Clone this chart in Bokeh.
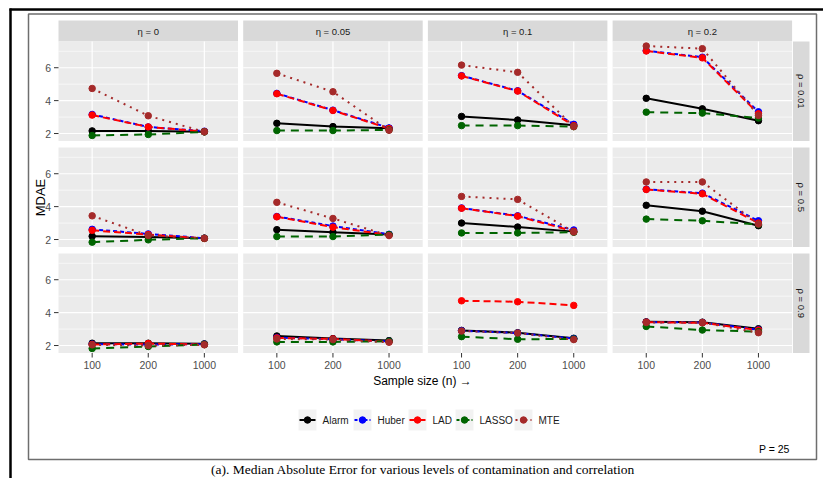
import numpy as np
from bokeh.plotting import figure
from bokeh.models import Range1d
from bokeh.core.properties import value
from bokeh.embed import file_html
from bokeh.resources import INLINE

# ---------------- data ----------------
sample_sizes = ["100", "200", "1000"]
eta_labels = ["η = 0", "η = 0.05", "η = 0.1", "η = 0.2"]
rho_labels = ["ρ = 0.01", "ρ = 0.5", "ρ = 0.9"]
methods = ["Alarm", "Huber", "LAD", "LASSO", "MTE"]
y_ticks = [2, 4, 6]
y_minor = [3, 5, 7]

# MDAE[rho][eta] -> values at n = 100, 200, 1000
alarm = [
    [[2.16, 2.16, 2.10], [2.62, 2.42, 2.32], [3.04, 2.82, 2.50], [4.14, 3.50, 2.78]],
    [[2.20, 2.16, 2.08], [2.60, 2.44, 2.30], [3.00, 2.76, 2.48], [4.08, 3.72, 2.84]],
    [[2.14, 2.14, 2.10], [2.58, 2.42, 2.30], [2.92, 2.78, 2.44], [3.44, 3.42, 3.02]],
]
huber = [
    [[3.16, 2.40, 2.14], [4.44, 3.42, 2.34], [5.52, 4.60, 2.56], [7.04, 6.64, 3.32]],
    [[2.62, 2.34, 2.08], [3.40, 2.82, 2.32], [3.92, 3.44, 2.58], [5.06, 4.82, 3.14]],
    [[2.08, 2.06, 2.08], [2.48, 2.38, 2.26], [2.90, 2.76, 2.42], [3.42, 3.40, 2.96]],
]
lad = [
    [[3.12, 2.40, 2.12], [4.42, 3.40, 2.30], [5.50, 4.58, 2.48], [7.02, 6.60, 3.20]],
    [[2.56, 2.30, 2.06], [3.38, 2.75, 2.28], [3.90, 3.42, 2.50], [5.04, 4.78, 3.00]],
    [[2.06, 2.12, 2.06], [2.46, 2.40, 2.24], [4.72, 4.66, 4.44], [3.42, 3.38, 2.94]],
]
lasso = [
    [[1.88, 1.94, 2.10], [2.18, 2.18, 2.22], [2.48, 2.48, 2.42], [3.30, 3.24, 2.94]],
    [[1.84, 1.98, 2.08], [2.18, 2.18, 2.30], [2.40, 2.40, 2.44], [3.24, 3.14, 2.92]],
    [[1.82, 1.94, 2.06], [2.22, 2.22, 2.26], [2.54, 2.38, 2.40], [3.16, 2.94, 2.84]],
]
mte = [
    [[4.74, 3.08, 2.10], [5.66, 4.54, 2.20], [6.16, 5.72, 2.42], [7.32, 7.16, 3.10]],
    [[3.44, 2.25, 2.08], [4.26, 3.28, 2.24], [4.62, 4.44, 2.46], [5.50, 5.50, 2.94]],
    [[2.04, 2.00, 2.04], [2.40, 2.36, 2.20], [2.88, 2.76, 2.36], [3.40, 3.40, 2.78]],
]

# ---------------- styling ----------------
series = [
    (alarm, "black", "solid"),
    (huber, "#0000FF", "4 3"),
    (lad, "#FF0000", "7 4"),
    (lasso, "#006400", "8 6"),
    (mte, "#A52A2A", "2 5"),
]
legend_dash = ["solid", "3 2", "solid", "3 2", "2 3"]
FONT = value("Liberation Sans")
SERIF = value("Liberation Serif")

x_pos = [1, 2, 3]
X_LO, X_HI = 0.4, 3.6
all_vals = np.concatenate([np.ravel(a) for a in (alarm, huber, lad, lasso, mte)])
span = all_vals.max() - all_vals.min()
Y_LO, Y_HI = all_vals.min() - 0.05 * span, all_vals.max() + 0.05 * span

W, H = 823, 478
p = figure(width=W, height=H, x_range=Range1d(0, W), y_range=Range1d(H, 0),
           output_backend="svg", toolbar_location=None, min_border=0,
           x_axis_location=None, y_axis_location=None)
p.grid.visible = False
p.outline_line_color = None
p.background_fill_color = "white"
p.border_fill_color = "white"

# outer frame
p.segment(x0=[9], x1=[W], y0=[9], y1=[9], line_color="black", line_width=2.5)
p.segment(x0=[10], x1=[10], y0=[8], y1=[H], line_color="black", line_width=2.5)
p.quad(left=[28], right=[816], top=[13.5], bottom=[459], fill_color=None,
       line_color="#6E6E6E", line_width=1.5)

col_left = [58 + i * 184.7 for i in range(4)]
PW = 179.5
row_top = [41 + j * 106 for j in range(3)]
PH = 99.5
ppu_y = PH / (Y_HI - Y_LO)
ppu_x = PW / (X_HI - X_LO)

# top strips
p.quad(left=col_left, right=[c + PW for c in col_left], top=[20] * 4, bottom=[41] * 4,
       fill_color="#D9D9D9", line_color=None)
p.text(x=[c + PW / 2 for c in col_left], y=[30.5] * 4, text=eta_labels,
       text_font=FONT, text_font_size="9.5px", text_color="#1A1A1A",
       text_align="center", text_baseline="middle")
# right strips
p.quad(left=[792.5] * 3, right=[809] * 3, top=row_top, bottom=[r + PH for r in row_top],
       fill_color="#D9D9D9", line_color=None)
p.text(x=[800.75] * 3, y=[r + PH / 2 for r in row_top], text=rho_labels,
       text_font=FONT, text_font_size="9.5px", text_color="#1A1A1A",
       text_align="center", text_baseline="middle", angle=-np.pi / 2)

for j in range(3):
    for i in range(4):
        sp = p.subplot(x_source=Range1d(X_LO, X_HI), y_source=Range1d(Y_LO, Y_HI),
                       x_target=Range1d(col_left[i], col_left[i] + PW),
                       y_target=Range1d(row_top[j] + PH, row_top[j]))
        sp.quad(left=[X_LO], right=[X_HI], bottom=[Y_LO], top=[Y_HI],
                fill_color="#EBEBEB", line_color=None)
        sp.segment(x0=X_LO, x1=X_HI, y0=y_minor, y1=y_minor, line_color="white", line_width=0.6)
        sp.segment(x0=X_LO, x1=X_HI, y0=y_ticks, y1=y_ticks, line_color="white", line_width=1.2)
        sp.segment(x0=x_pos, x1=x_pos, y0=Y_LO, y1=Y_HI, line_color="white", line_width=1.2)
        for data, color, dash in series:
            sp.line(x_pos, data[j][i], line_color=color, line_width=2, line_dash=dash)
        for data, color, dash in series:
            sp.scatter(x_pos, data[j][i], size=6.5, fill_color=color, line_color=color)
        if j == 2:
            sp.segment(x0=x_pos, x1=x_pos, y0=Y_LO, y1=Y_LO - 4.5 / ppu_y,
                       line_color="#333333", line_width=1)
            sp.text(x=x_pos, y=[Y_LO] * 3, text=sample_sizes, y_offset=11.5,
                    text_font=FONT, text_font_size="10.5px", text_color="#4D4D4D",
                    text_align="center", text_baseline="middle")
        if i == 0:
            sp.segment(x0=X_LO - 4.5 / ppu_x, x1=X_LO, y0=y_ticks, y1=y_ticks,
                       line_color="#333333", line_width=1)
            sp.text(x=[X_LO] * 3, y=y_ticks, text=[str(t) for t in y_ticks], x_offset=-7.5,
                    text_font=FONT, text_font_size="10.5px", text_color="#4D4D4D",
                    text_align="right", text_baseline="middle")

# axis titles
p.text(x=[40], y=[197], text=["MDAE"], angle=np.pi / 2, text_font=FONT,
       text_font_size="13px", text_color="black", text_align="center", text_baseline="middle")
p.text(x=[422], y=[380.5], text=["Sample size (n) →"], text_font=FONT,
       text_font_size="12px", text_color="black", text_align="center", text_baseline="middle")

# legend
key_left = [298, 353, 408, 455, 514]
KW = 18
for k, (data, color, dash) in enumerate(series):
    kl = key_left[k]
    p.quad(left=[kl], right=[kl + KW], top=[409], bottom=[430], fill_color="#F2F2F2", line_color=None)
    p.segment(x0=[kl + 1], x1=[kl + KW - 1], y0=[419.5], y1=[419.5], line_color=color,
              line_width=2, line_dash=legend_dash[k])
    p.scatter(x=[kl + KW / 2], y=[419.5], size=6.5, fill_color=color, line_color=color)
p.text(x=[k + 24 for k in key_left], y=[419.5] * 5, text=methods, text_font=FONT,
       text_font_size="10px", text_color="#1A1A1A", text_align="left", text_baseline="middle")

p.text(x=[792], y=[448], text=["P  = 25"], text_font=FONT, text_font_size="10.5px",
       text_color="black", text_align="right", text_baseline="middle")

p.text(x=[422.5], y=[468.5], text=["(a). Median Absolute Error for various levels of contamination and correlation"],
       text_font=SERIF, text_font_size="13.5px", text_color="black", text_align="center",
       text_baseline="middle")

open("out.html", "w").write(file_html(p, INLINE))
